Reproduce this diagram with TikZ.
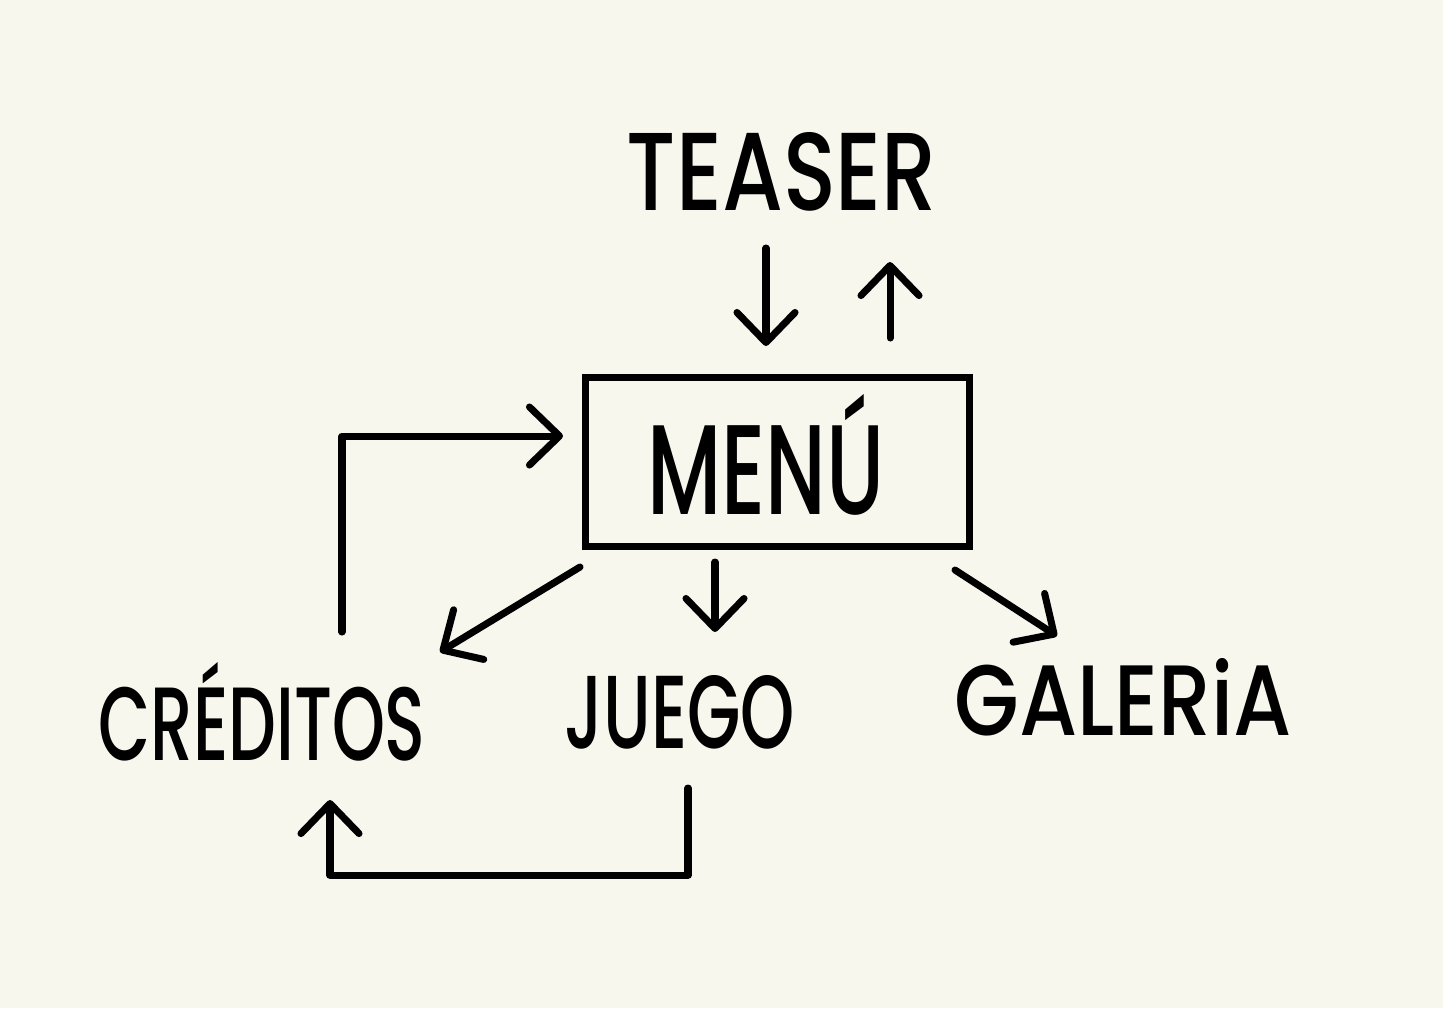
\documentclass[tikz,border=0pt]{standalone}
\usepackage{fontspec}
\usepackage{graphicx}
\setmainfont{Poppins}
\newfontfamily\handfont{Poppins Medium}
\usetikzlibrary{arrows.meta}
\definecolor{paper}{RGB}{247,247,237}
\tikzset{
  ink/.style={line width=2pt, line cap=round, line join=round, black},
  arr/.style={ink, -{Straight Barb[length=3mm,width=5.8mm,line width=2pt,round]}},
  lbl/.style={inner sep=0pt, font=\handfont},
  box/.style={draw, line width=2pt, minimum width=3.83cm, minimum height=1.68cm, inner sep=0pt}
}
\begin{document}
\begin{tikzpicture}[x=0.01cm,y=-0.01cm]
\fill[paper] (0,0) rectangle (1443,1008);
\useasboundingbox (0,0) rectangle (1443,1008);
% nodes
\node[lbl] (teaser) at (782,172) {\resizebox{3.1cm}{0.78cm}{TEASER}};
\node[box] (menu) at (777.5,462) {};
\node[lbl] (menulbl) at (766,455) {\resizebox{2.37cm}{1.2cm}{MENÚ}};
\node[lbl] (creditos) at (262,712) {\resizebox{3.27cm}{0.98cm}{CRÉDITOS}};
\node[lbl] (juego) at (680,712) {\resizebox{2.3cm}{0.73cm}{JUEGO}};
\node[lbl] (galeria) at (1123,697) {\resizebox{3.37cm}{0.77cm}{GALERiA}};
% connector ends
\coordinate (tdA) at (766,248);  \coordinate (tdB) at (766,346);
\coordinate (muA) at (890,338);  \coordinate (muB) at (890,262);
\coordinate (clA) at (342,632);  \coordinate (clC) at (342,436); \coordinate (clB) at (563,436);
\coordinate (mcA) at (580,567);  \coordinate (mcB) at (440,652);
\coordinate (mjA) at (715,562);  \coordinate (mjB) at (715,632);
\coordinate (mgA) at (955,570);  \coordinate (mgB) at (1057,636);
\coordinate (jcA) at (688,788);  \coordinate (jcC) at (688,875); \coordinate (jcD) at (330,875); \coordinate (jcB) at (330,800);
% connectors
\draw[arr] (tdA) -- (tdB);
\draw[arr] (muA) -- (muB);
\draw[arr] (clA) -- (clC) -- (clB);
\draw[arr] (mcA) -- (mcB);
\draw[arr] (mjA) -- (mjB);
\draw[arr] (mgA) -- (mgB);
\draw[arr] (jcA) -- (jcC) -- (jcD) -- (jcB);
\end{tikzpicture}
\end{document}
